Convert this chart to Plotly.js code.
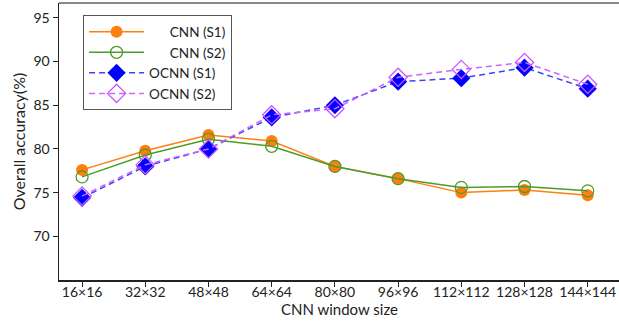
<!DOCTYPE html>
<html>
<head>
<meta charset="utf-8">
<script src="https://cdn.plot.ly/plotly-3.0.1.min.js"></script>
<style>html,body{margin:0;padding:0;background:#fff;}#chart{width:619px;height:322px;}</style>
</head>
<body>
<div id="chart"></div>
<script>
const categories = ['16×16','32×32','48×48','64×64','80×80','96×96','112×112','128×128','144×144'];
const cnnS1  = [77.6, 79.8, 81.6, 80.9, 78.0, 76.6, 75.0, 75.3, 74.7];
const cnnS2  = [76.8, 79.3, 81.1, 80.3, 78.0, 76.6, 75.6, 75.7, 75.2];
const ocnnS1 = [74.4, 78.0, 80.0, 83.6, 85.0, 87.7, 88.1, 89.3, 86.9];
const ocnnS2 = [74.6, 78.2, 80.0, 83.9, 84.6, 88.2, 89.1, 89.9, 87.4];
const seriesNames = ['      CNN (S1)', '      CNN (S2)', 'OCNN (S1)', 'OCNN (S2)'];
const yTicks = [70, 75, 80, 85, 90, 95];
const xTitle = 'CNN window size';
const yTitle = 'Overall accuracy(%)';

const FONT = 'Lato, "Open Sans", sans-serif';
const xIdx = categories.map((_, i) => i);

const traces = [
  {x: xIdx, y: cnnS1, name: seriesNames[0], mode: 'lines+markers',
   line: {color: '#FF7F0E', width: 1.5},
   marker: {symbol: 'circle', size: 12, color: '#FF7F0E'}},
  {x: xIdx, y: cnnS2, name: seriesNames[1], mode: 'lines+markers',
   line: {color: '#4E9A2A', width: 1.5},
   marker: {symbol: 'circle-open', size: 12, color: '#4E9A2A', line: {width: 1.3}}},
  {x: xIdx, y: ocnnS1, name: seriesNames[2], mode: 'lines+markers',
   line: {color: '#4040FF', width: 1.5, dash: '6px,4px'},
   marker: {symbol: 'diamond', size: 14, color: '#0000FF'}},
  {x: xIdx, y: ocnnS2, name: seriesNames[3], mode: 'lines+markers',
   line: {color: '#CC66FF', width: 1.5, dash: '6px,4px'},
   marker: {symbol: 'diamond-open', size: 14, color: '#CC55FF', line: {width: 1.3}}}
];

const layout = {
  width: 619, height: 322,
  margin: {l: 59, r: 0, t: 3, b: 42},
  paper_bgcolor: '#fff', plot_bgcolor: '#fff',
  font: {family: FONT, size: 14, color: '#222'},
  showlegend: true,
  legend: {
    x: 0.043, y: 0.955, xanchor: 'left', yanchor: 'top',
    bordercolor: '#555', borderwidth: 1, bgcolor: '#fff',
    font: {family: FONT, size: 13.5, color: '#222'},
    itemwidth: 55, tracegroupgap: 0
  },
  xaxis: {
    range: [-0.365, 8.495],
    tickvals: xIdx, ticktext: categories,
    showgrid: false, zeroline: false,
    showline: true, linecolor: '#222', linewidth: 1.5,
    ticks: 'outside', ticklen: 5, tickcolor: '#222',
    ticklabelstandoff: -6,
    tickfont: {family: FONT, size: 14, color: '#222'}
  },
  yaxis: {
    range: [65, 96.7],
    tickvals: yTicks,
    showgrid: false, zeroline: false,
    showline: true, linecolor: '#222', linewidth: 1.5,
    ticks: 'outside', ticklen: 5, tickcolor: '#222',
    tickfont: {family: FONT, size: 14, color: '#222'},
    title: {text: yTitle, font: {family: FONT, size: 16, color: '#222'}, standoff: 4}
  },
  annotations: [
    {text: xTitle, xref: 'paper', yref: 'paper', x: 0.5, y: -0.106,
     xanchor: 'center', yanchor: 'middle', showarrow: false,
     font: {family: FONT, size: 15, color: '#222'}}
  ],
  shapes: [
    {type: 'line', xref: 'paper', yref: 'paper', x0: 0, x1: 1, y0: 1, y1: 1,
     line: {color: '#888', width: 2}}
  ]
};

Plotly.newPlot('chart', traces, layout, {displayModeBar: false, staticPlot: true});
</script>
</body>
</html>
